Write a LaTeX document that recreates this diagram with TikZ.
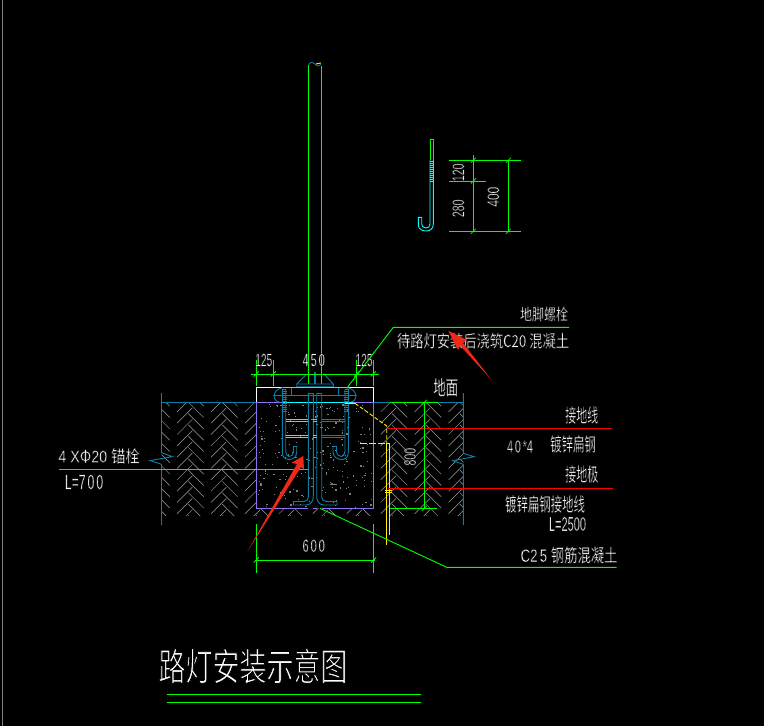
\documentclass[tikz,border=0pt]{standalone}
\usepackage{fontspec}
\usepackage{graphicx}
\setmainfont{Liberation Sans}
\newfontfamily\cjk{Noto Sans CJK SC}
\definecolor{cadgreen}{HTML}{00FF00}
\definecolor{cadblue}{HTML}{0A7FA8}
\definecolor{cadcyan}{HTML}{00FFFF}
\definecolor{cadpurple}{HTML}{8F70F0}
\definecolor{cadred}{HTML}{FF0000}
\definecolor{cadarrow}{HTML}{F02818}
\definecolor{hatchgray}{HTML}{A0A0A0}
% narrow the glyphs horizontally and thin their strokes with a black outline
\newcommand\nw[3][.22]{\special{pdf:code q 2 Tr 0 0 0 RG #1 w}\scalebox{#2}[1]{#3}\special{pdf:code Q}}
\tikzset{
  cadtext/.style={text=white,inner sep=0pt,outer sep=0pt},
  dimline/.style={cadgreen,line width=.9pt},
  leader/.style={cadgreen,line width=.9pt},
  steel/.style={cadblue,line width=.9pt},
  steelc/.style={cadcyan,line width=.9pt},
  gnd/.style={cadblue,line width=.9pt},
  yel/.style={yellow,line width=.9pt},
  reddim/.style={cadred,line width=1pt},
  pointer/.style={fill=cadarrow,draw=none},
  dimtick/.pic={\draw[cadgreen,line width=.8pt] (-2.5,2.5) -- (2.5,-2.5);}
}
\begin{document}
\begin{tikzpicture}[x=1pt,y=-1pt]
\useasboundingbox (0,0) rectangle (764,726);
\fill[black] (0,0) rectangle (764,726);
% frame
\draw[gray,line width=1pt] (2.5,0) -- (2.5,726);
% hatch
\begin{scope}
  \clip (161.5,402.3) rectangle (463.3,515);
  \begin{scope}[shift={(312,458)},rotate=45,x=8pt,y=8pt]
    \foreach \t in {-26,...,26}{
      \foreach \s in {-5,...,5}{
        \pgfmathtruncatemacro{\ua}{\t+6*\s}
        \pgfmathtruncatemacro{\ub}{\t+5+6*\s}
        \ifnum\ua>-26 \ifnum\ua<26
        \draw[hatchgray,line width=.5pt] (\ua+.15,\t) -- ++(2.7,0);
        \fi\fi
        \ifnum\ub>-26 \ifnum\ub<26
        \draw[hatchgray,line width=.5pt] (\ub,\t+.15) -- ++(0,2.7);
        \fi\fi
      }
    }
  \end{scope}
\end{scope}
\fill[black] (256.3,402.3) rectangle (373.7,508.3);
% concrete speckle
\pgfmathsetseed{11}
\foreach \i in {1,...,240}{
  \pgfmathsetmacro{\px}{258+rnd*114}
  \pgfmathsetmacro{\py}{404+rnd*103}
  \pgfmathsetmacro{\ps}{.6+rnd*1.1}
  \fill[gray] (\px,\py) rectangle ++(\ps,\ps);
}
% ground line and break symbols
\draw[gnd] (161.5,393) -- (161.5,452.7) -- (172.5,456.7) -- (150,460.5) -- (161.5,464.3) -- (161.5,525);
\draw[gnd] (463.3,393) -- (463.3,453.3) -- (474.3,456.7) -- (452.7,460.7) -- (463.3,464.3) -- (463.3,525);
\draw[gnd] (161.5,402.3) -- (256.3,402.3) (374,402.3) -- (463.3,402.3);
% white top of foundation
\draw[white,line width=1pt] (256.3,402.3) -- (256.3,387.3) -- (373.7,387.3) -- (373.7,402.3);
% purple concrete outline
\draw[cadpurple,line width=1pt] (283,402.3) -- (256.3,402.3) -- (256.3,508.3) -- (308.3,508.3)
  (313.3,508.3) -- (316.7,508.3) (321.7,508.3) -- (373.7,508.3) -- (373.7,402.3) -- (348,402.3);
% pole
\draw[cadgreen,line width=.9pt] (308.7,64.5) -- (308.7,384) (321.3,65.5) -- (321.3,384);
\draw[cadblue,line width=.8pt] (308.7,64.5) .. controls (311,61.5) and (313,62) .. (315,64) .. controls (317,66.5) and (319,66.5) .. (321,64.5);
\draw[yel] (316,64) -- (321,63);
% base plate and stiffeners
\draw[steel] (296.7,384) -- (333.3,384) (296.7,386.7) -- (333.3,386.7) (296.7,384) -- (296.7,386.7) (333.3,384) -- (333.3,386.7)
  (296.7,384) -- (305.7,375) (333.3,384) -- (323.7,373.5);
\fill[cadblue] (314,372) rectangle (316,384);
% anchor head plate
\draw[steelc] (283,387.6) -- (347,387.6);
\draw[steel] (279,402) .. controls (272,401) and (272,389) .. (283,387.6)
  (351,402) .. controls (358,401) and (358,389) .. (347,387.6);
\draw[steel] (273,395.7) -- (357,395.7) (291.5,387.6) -- (291.5,395.7) (338.5,387.6) -- (338.5,395.7);
\draw[steelc] (283,402.3) -- (353,402.3);
% central tubes
\draw[steel] (308.3,497) -- (308.3,393.5) -- (313.3,393.5) -- (313.3,496)
  .. controls (313.3,501) and (311,505) .. (306,505) -- (293.3,505) -- (293.3,501.5) -- (304,501.5)
  .. controls (307,501.5) and (308.3,499) .. (308.3,497);
\draw[steel] (321.7,497) -- (321.7,393.5) -- (316.7,393.5) -- (316.7,496)
  .. controls (316.7,501) and (319,505) .. (324,505) -- (337,505) -- (337,501.5) -- (326,501.5)
  .. controls (323,501.5) and (321.7,499) .. (321.7,497);
% anchor bolts
\draw[steel] (282.3,389.5) -- (282.3,452) .. controls (282.3,457) and (285,459.5) .. (289,459.5)
  .. controls (293,459.5) and (296.7,457) .. (296.7,452) -- (296.7,446.5) -- (293.5,446.5) -- (293.5,452)
  .. controls (293.5,455) and (291,456.5) .. (289,456.5) .. controls (287,456.5) and (285.7,454) .. (285.7,451) -- (285.7,389.5) -- cycle;
\draw[steel] (348.3,389.5) -- (348.3,452) .. controls (348.3,457) and (345.6,459.5) .. (341.6,459.5)
  .. controls (337.6,459.5) and (333,457) .. (333,452) -- (333,446.5) -- (336.5,446.5) -- (336.5,452)
  .. controls (336.5,455) and (339.6,456.5) .. (341.6,456.5) .. controls (343.6,456.5) and (345,454) .. (345,451) -- (345,389.5) -- cycle;
\foreach \yy in {391,393,...,411}{
  \draw[steel,line width=.6pt] (281.5,\yy) -- (286.5,\yy) (344,\yy) -- (349,\yy);
}
% horizontal ties
\draw[steelc] (285.7,419.5) -- (308.3,419.5) (285.7,421.5) -- (308.3,421.5) (285.7,435) -- (308.3,435) (285.7,437.2) -- (308.3,437.2)
  (313.3,419.5) -- (316.7,419.5) (313.3,421.5) -- (316.7,421.5) (313.3,435) -- (316.7,435) (313.3,437.2) -- (316.7,437.2);
\draw[steel] (321.7,419.5) -- (345,419.5) (321.7,421.5) -- (345,421.5) (321.7,435) -- (345,435) (321.7,437.2) -- (345,437.2);
% yellow grounding
\draw[yel] (345,403.3) -- (355,403.3);
\draw[yel,dash pattern=on 4pt off 2pt] (355,403.3) -- (386.7,426) -- (386.7,443.3);
\draw[yel,dash pattern=on 7pt off 2pt] (360,443.3) -- (389.3,443.3);
\draw[yel] (386.7,443.3) -- (386.7,544.5) (389.3,443.3) -- (389.3,535);
\draw[yel] (385,490) -- (391.7,490) (385,492.8) -- (391.7,492.8);
% red leaders
\coordinate (redA) at (386.7,428.3);
\coordinate (redAend) at (611.7,428.3);
\coordinate (redB) at (388,488.3);
\coordinate (redBend) at (613,488.3);
\draw[reddim] (redA) -- (redAend);
\draw[reddim] (redB) -- (redBend);
% top dimensions
\draw[dimline] (251,374) -- (378.7,374);
\foreach \xx in {256.3,273.3,356.7,373.3}{
  \draw[dimline] (\xx,360) -- (\xx,385.7);
  \pic at (\xx,374) {dimtick};
}
\node[cadtext] (d125a) at (263.7,360) {\fontsize{18}{18}\selectfont\nw{.57}{125}};
\node[cadtext] (d450) at (313.7,360) {\fontsize{18}{18}\selectfont\nw{.62}{4\,5\,0}};
\node[cadtext] (d125b) at (364,360) {\fontsize{18}{18}\selectfont\nw{.57}{125}};
% 800 dimension
\draw[dimline] (424.3,402.3) -- (424.3,508.3);
\draw[dimline] (390,402.3) -- (437.7,402.3) (390,508.3) -- (436.7,508.3);
\pic at (424.3,402.3) {dimtick};
\pic at (424.3,508.3) {dimtick};
\node[cadtext,rotate=90] (d800) at (410,456.7) {\fontsize{17}{17}\selectfont\nw{.62}{800}};
% 600 dimension
\draw[dimline] (255,560) -- (375,560);
\draw[dimline] (256.3,524) -- (256.3,572.7) (373.7,524) -- (373.7,572.7);
\pic at (256.3,560) {dimtick};
\pic at (373.7,560) {dimtick};
\node[cadtext] (d600) at (313.7,545.7) {\fontsize{18}{18}\selectfont\nw{.62}{6\,0\,0}};
% leaders
\coordinate (bolthead) at (346.7,388.3);
\coordinate (elbowA) at (393.3,327.3);
\coordinate (tailA) at (569,327.3);
\draw[leader] (bolthead) -- (elbowA) -- (tailA);
\coordinate (base) at (320,508.3);
\coordinate (elbowB) at (446.7,567.3);
\coordinate (tailB) at (616.7,567.3);
\draw[leader] (base) -- (elbowB) -- (tailB);
\coordinate (anchorL) at (59,469.3);
\coordinate (anchorR) at (308,469.3);
\draw[leader] (anchorL) -- (anchorR);
% labels
\node[cadtext] (lb1) at (544,314) {\fontsize{16}{16}\selectfont\cjk\nw{.75}{地脚螺栓}};
\node[cadtext] (lb2) at (483,340.7) {\fontsize{17}{17}\selectfont\nw{.78}{\cjk 待路灯安装后浇筑C20 混凝土}};
\node[cadtext] (lb3) at (445.7,387.3) {\fontsize{20}{20}\selectfont\cjk\nw{.62}{地面}};
\node[cadtext] (lb4) at (581.7,415) {\fontsize{19}{19}\selectfont\cjk\nw{.58}{接地线}};
\node[cadtext] (lb5) at (520,446.5) {\fontsize{18}{18}\selectfont\nw{.6}{4\,0\,*4}};
\node[cadtext] (lb6) at (573,444) {\fontsize{19}{19}\selectfont\cjk\nw{.6}{镀锌扁钢}};
\node[cadtext] (lb7) at (581.7,474) {\fontsize{19}{19}\selectfont\cjk\nw{.58}{接地极}};
\node[cadtext] (lb8) at (545,504) {\fontsize{19}{19}\selectfont\cjk\nw{.6}{镀锌扁钢接地线}};
\node[cadtext] (lb9) at (567.5,524) {\fontsize{20}{20}\selectfont\nw{.55}{L=2500}};
\node[cadtext] (lb10) at (569,555) {\fontsize{18}{18}\selectfont\nw{.74}{C2\,5 \cjk 钢筋混凝土}};
\node[cadtext] (lb11) at (99,456) {\fontsize{17}{17}\selectfont\nw{.84}{4 X\cjk Φ\rmfamily 20 \cjk 锚栓}};
\node[cadtext] (lb12) at (84,482) {\fontsize{21}{21}\selectfont\nw{.58}{L=7\,0\,0}};
% small J bolt
\draw[cadgreen,line width=.9pt] (430,160) -- (430,139.3) -- (433.3,139.3) -- (433.3,160);
\draw[steelc] (430,160) -- (430,224) .. controls (430,227) and (428,228) .. (426,228)
  .. controls (423,228) and (421.7,226) .. (421.7,224) -- (421.7,217.3) -- (418.3,217.3) -- (418.3,225)
  .. controls (418.3,229) and (422,231) .. (426,231) .. controls (430,231) and (433.3,229) .. (433.3,224) -- (433.3,160);
\foreach \yy in {161,163,...,181}{
  \draw[steelc,line width=.7pt] (429.5,\yy) -- (433.8,\yy);
}
\draw[dimline] (449,160.3) -- (521,160.3) (449,181) -- (486,181) (449,231.3) -- (521,231.3);
\draw[dimline] (473.3,155) -- (473.3,231.3) (508.3,160.3) -- (508.3,231.3);
\foreach \pp in {(473.3,160.3),(473.3,181),(473.3,231.3),(508.3,160.3),(508.3,231.3)}{
  \pic at \pp {dimtick};
}
\node[cadtext,rotate=90] (d120) at (458.3,172.3) {\fontsize{17}{17}\selectfont\nw{.62}{120}};
\node[cadtext,rotate=90] (d280) at (458.3,208.3) {\fontsize{17}{17}\selectfont\nw{.62}{280}};
\node[cadtext,rotate=90] (d400) at (493.3,196.7) {\fontsize{17}{17}\selectfont\nw{.7}{400}};
% title
\node[cadtext] (title) at (253,666) {\fontsize{38}{38}\selectfont\cjk\nw[.9]{.71}{路灯安装示意图}};
\draw[cadgreen,line width=1pt] (167.3,694.3) -- (420.7,694.3) (167.3,702.3) -- (420.7,702.3);
% red pointer arrows
\fill[pointer] (303.3,456) -- (291.7,462.7) -- (297,464) -- (247.3,551.7) -- (301,467) -- (304,469.3) -- cycle;
\fill[pointer] (448.3,330.7) -- (458,350) -- (460,345.5) -- (491.7,380) -- (463,343) -- (467,340) -- cycle;
\end{tikzpicture}
\end{document}
